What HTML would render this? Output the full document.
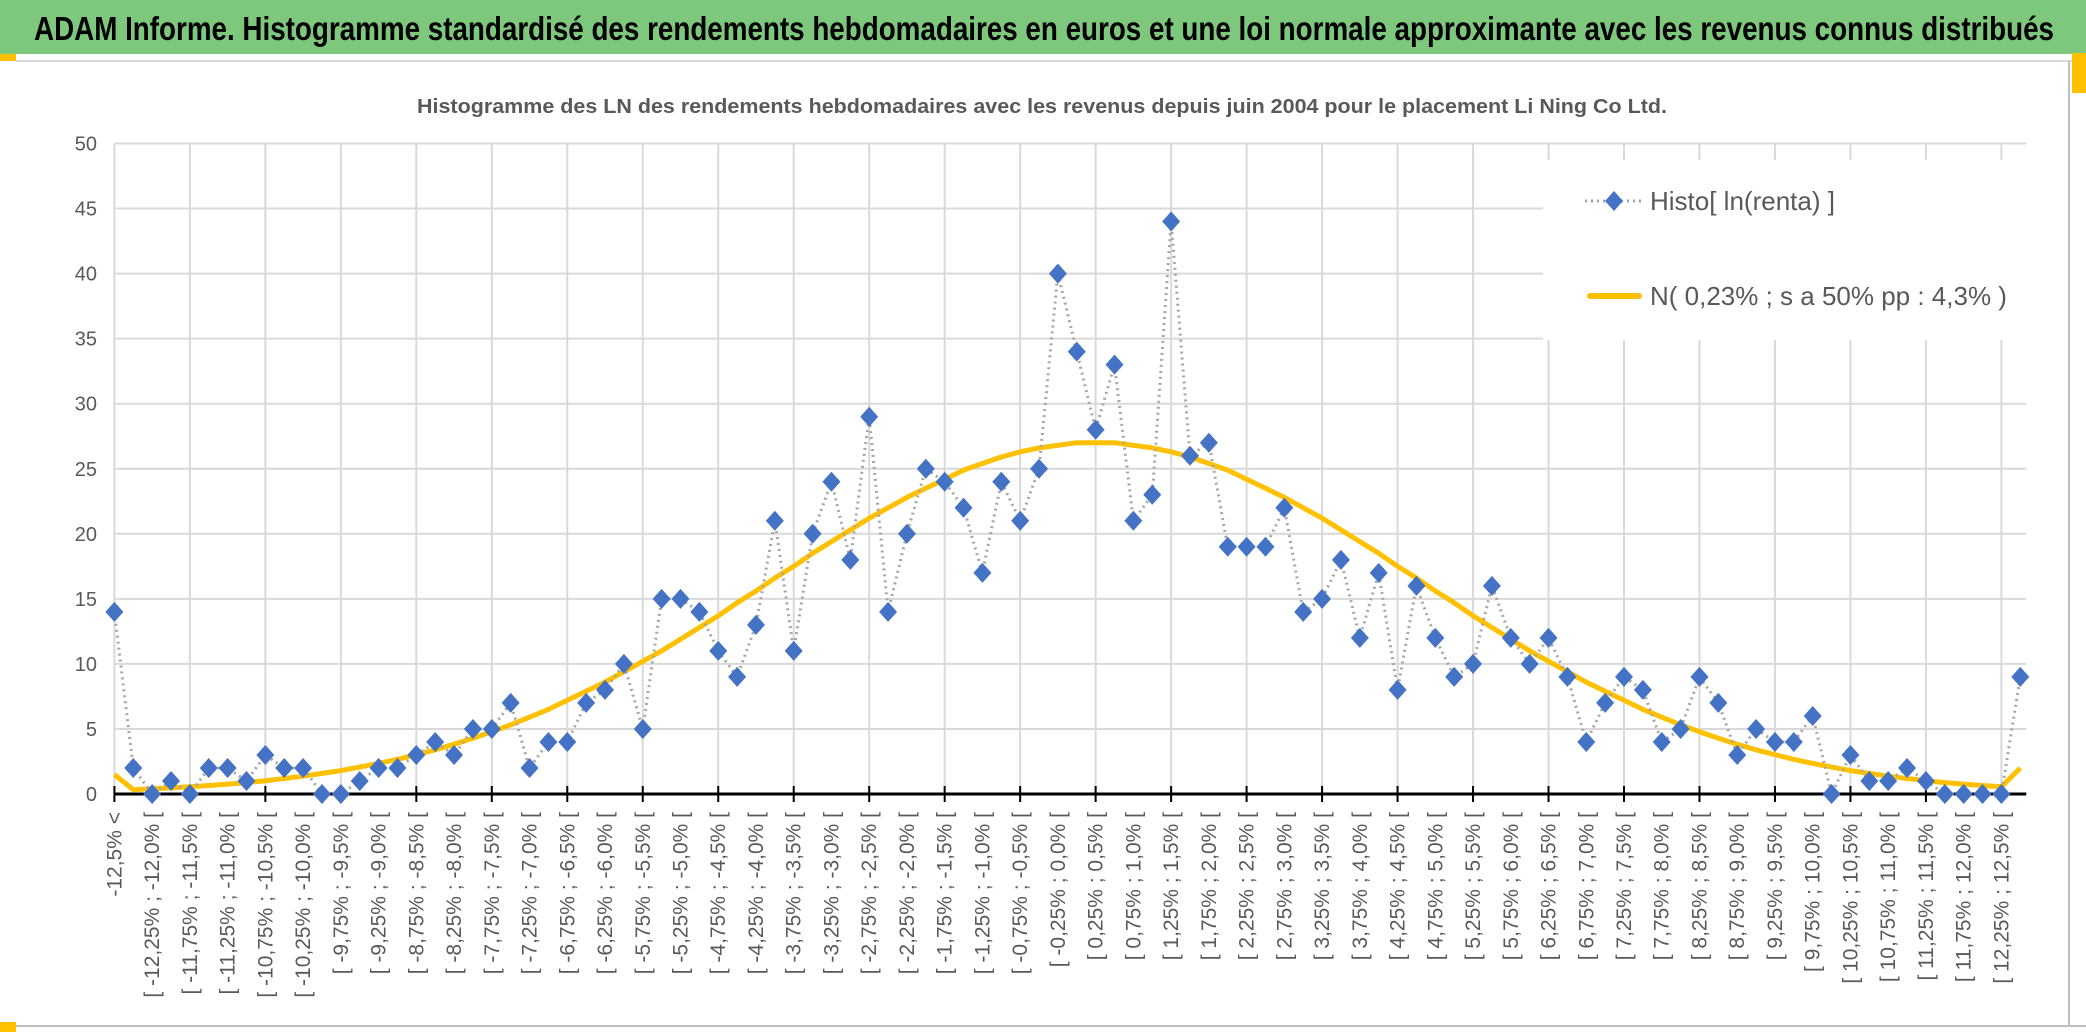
<!DOCTYPE html>
<html><head><meta charset="utf-8"><style>
html,body{margin:0;padding:0;background:#fff;}
svg{display:block;font-family:"Liberation Sans",sans-serif;}
</style></head><body>
<svg id="chart" width="2086" height="1032" viewBox="0 0 2086 1032" xmlns="http://www.w3.org/2000/svg">
<rect x="0" y="0" width="2086" height="1032" fill="#fff"/>
<rect x="0" y="0" width="2086" height="54" fill="#7dc87d"/>
<text x="1044" y="40" text-anchor="middle" font-size="33" font-weight="bold" fill="#000" textLength="2020" lengthAdjust="spacingAndGlyphs">ADAM Informe. Histogramme standardisé des rendements hebdomadaires en euros et une loi normale approximante avec les revenus connus distribués</text>
<rect x="0" y="54" width="16" height="7" fill="#ffc000"/>
<line x1="16" y1="61" x2="2086" y2="61" stroke="#d9d9d9" stroke-width="2"/>
<rect x="2072" y="53" width="14" height="40" fill="#ffc000"/>
<line x1="2069" y1="61" x2="2069" y2="1025" stroke="#bfbfbf" stroke-width="2"/>
<line x1="0" y1="1026" x2="2086" y2="1026" stroke="#bfbfbf" stroke-width="2"/>
<rect x="0" y="1022" width="16" height="10" fill="#ffc000"/>
<text x="1042" y="113" text-anchor="middle" font-size="20" font-weight="bold" fill="#595959" textLength="1250" lengthAdjust="spacingAndGlyphs">Histogramme des LN des rendements hebdomadaires avec les revenus depuis juin 2004 pour le placement Li Ning Co Ltd.</text>
<g id="grid"></g>
<g id="yaxis"></g>
<g id="xaxis"></g>
<g id="series"></g>
<g>
<rect x="1543" y="160" width="506" height="180" fill="#fff"/>
<line x1="1585" y1="201" x2="1645" y2="201" stroke="#a0a0a0" stroke-width="3" stroke-dasharray="2,4"/>
<path d="M1614 191 L1623 201 L1614 211 L1605 201 Z" fill="#4472c4"/>
<text x="1650" y="210" font-size="26" fill="#595959">Histo[ ln(renta) ]</text>
<line x1="1590" y1="296" x2="1639" y2="296" stroke="#ffc000" stroke-width="6" stroke-linecap="round"/>
<text x="1650" y="305" font-size="26" fill="#595959">N( 0,23% ; s a 50% pp : 4,3% )</text>
</g>
</svg>
<script>
const histoValues=[14,2,0,1,0,2,2,1,3,2,2,0,0,1,2,2,3,4,3,5,5,7,2,4,4,7,8,10,5,15,15,14,11,9,13,21,11,20,24,18,29,14,20,25,24,22,17,24,21,25,40,34,28,33,21,23,44,26,27,19,19,19,22,14,15,18,12,17,8,16,12,9,10,16,12,10,12,9,4,7,9,8,4,5,9,7,3,5,4,4,6,0,3,1,1,2,1,0,0,0,0,9];
const normalValues=[1.5,0.33,0.4,0.47,0.55,0.65,0.76,0.88,1.02,1.19,1.37,1.58,1.8,2.07,2.35,2.67,3.02,3.4,3.83,4.29,4.78,5.32,5.9,6.5,7.2,7.9,8.6,9.4,10.2,11.0,11.9,12.8,13.7,14.7,15.6,16.6,17.5,18.5,19.4,20.3,21.2,22.0,22.8,23.5,24.2,24.9,25.4,25.9,26.3,26.6,26.8,27.0,27.0,27.0,26.8,26.6,26.3,25.9,25.4,24.9,24.2,23.5,22.8,22.0,21.2,20.3,19.4,18.5,17.5,16.6,15.6,14.7,13.7,12.8,11.9,11.0,10.2,9.4,8.6,7.9,7.2,6.5,5.9,5.32,4.78,4.29,3.83,3.4,3.02,2.67,2.35,2.07,1.8,1.58,1.37,1.19,1.02,0.88,0.76,0.65,0.55,2.0];
const yTicks=[0,5,10,15,20,25,30,35,40,45,50];
const binStart=-12.5, binStep=0.25;

const NS="http://www.w3.org/2000/svg";
const X0=114.4, DX=18.87, Y0=794, YU=13.01;
function xs(i){return X0+i*DX;}
function ys(v){return Y0-v*YU;}
function mk(tag,attrs,parent){const e=document.createElementNS(NS,tag);for(const k in attrs)e.setAttribute(k,attrs[k]);parent.appendChild(e);return e;}
function fmt(v){let s=(Math.round(Math.abs(v)*100)%50===0)?v.toFixed(1):v.toFixed(2);if(Math.abs(v)<1e-9)s=(v<0||Object.is(v,-0))?'-0,0':'0,0';return s.replace('.',',')+'%';}
const grid=document.getElementById('grid'),yax=document.getElementById('yaxis'),xax=document.getElementById('xaxis'),ser=document.getElementById('series');
const n=histoValues.length;
const xRight=xs(n-1)+6;
yTicks.forEach(t=>{
  const l=mk('line',{x1:X0,x2:xRight,y1:ys(t),y2:ys(t),stroke:'#d9d9d9','stroke-width':2},grid);
  
  
  const tx=mk('text',{x:97,y:ys(t)+7,'text-anchor':'end','font-size':20,fill:'#595959'},yax);
  tx.textContent=t;
  
  
});
for(let i=0;i<n;i+=4){
  const l=mk('line',{x1:xs(i),x2:xs(i),y1:ys(50),y2:Y0,stroke:'#d9d9d9','stroke-width':2},grid);
  
  
  const tk=mk('line',{x1:xs(i),x2:xs(i),y1:Y0-8,y2:Y0+8,stroke:'#000','stroke-width':2},xax);
  
  
}
const ax=mk('line',{x1:X0,x2:xRight,y1:Y0,y2:Y0,stroke:'#000','stroke-width':3},xax);


for(let i=0;i<n;i+=2){
  let label;
  if(i===0) label=fmt(binStart)+' <';
  else {const lo=binStart+(i-1)*binStep;const hi=lo+binStep;label='[ '+(lo<0&&lo>-0.3&&Math.abs(lo)<1e-9?'-0,0%':fmt(lo))+' ; '+(Math.abs(hi)<1e-9?'0,0%':fmt(hi))+' [';}
  const x=xs(i)+7;
  const tx=mk('text',{x:x,y:812,transform:'rotate(-90 '+x+' 812)','text-anchor':'end','font-size':21,fill:'#595959'},xax);
  tx.textContent=label;
  
  
}
let d='';normalValues.forEach((v,i)=>{d+=(i?'L':'M')+xs(i).toFixed(1)+' '+ys(v).toFixed(1);});
const nc=mk('path',{d:d,fill:'none',stroke:'#ffc000','stroke-width':5,'stroke-linejoin':'round'},ser);


let d2='';histoValues.forEach((v,i)=>{d2+=(i?'L':'M')+xs(i).toFixed(1)+' '+ys(v).toFixed(1);});
const hl=mk('path',{d:d2,fill:'none',stroke:'#a6a6a6','stroke-width':3,'stroke-dasharray':'2,4'},ser);


histoValues.forEach((v,i)=>{
  const x=xs(i),y=ys(v);
  const p=mk('path',{d:`M${x} ${y-10}L${x+9} ${y}L${x} ${y+10}L${x-9} ${y}Z`,fill:'#4472c4'},ser);
  
  
});
</script>
</body></html>
